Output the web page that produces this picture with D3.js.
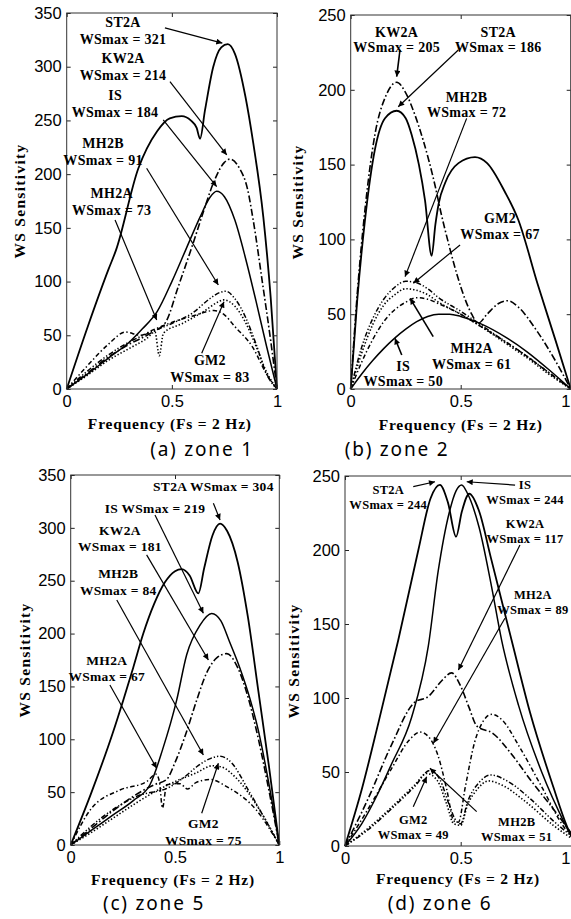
<!DOCTYPE html>
<html>
<head>
<meta charset="utf-8">
<script src="https://cdn.jsdelivr.net/npm/d3@7"></script>
<style>
  html, body { margin: 0; padding: 0; background: #fff; }
  svg { display: block; }
</style>
</head>
<body>
<svg id="fig" width="571" height="919"></svg>
<script>
// ---------- axis tick values ----------
const yTicks350 = [0, 50, 100, 150, 200, 250, 300, 350];
const yTicks250 = [0, 50, 100, 150, 200, 250];
const xTicks = [0, 0.5, 1];
const xTickLabels = ["0", "0.5", "1"];

// ---------- WS sensitivity vs. normalised frequency, [f, WS] ----------
// zone 1
const zone1_ST2A = [[0,0],[0.1,58],[0.2,112],[0.234,129],[0.34,205],[0.43,240],[0.49,252],[0.547,254],[0.59,250],[0.618,243],[0.634,233],[0.658,260],[0.697,300],[0.735,318],[0.766,321],[0.8,312],[0.85,272],[0.887,229],[0.935,160],[0.97,85],[1,0]];
const zone1_KW2A = [[0,0],[0.1,15],[0.2,30],[0.3,42],[0.4,52],[0.47,62],[0.53,95],[0.6,135],[0.65,165],[0.7,193],[0.75,211],[0.777,214],[0.82,206],[0.86,186],[0.887,157],[0.93,100],[0.97,45],[1,0]];
const zone1_IS   = [[0,0],[0.1,14],[0.2,29],[0.3,44],[0.36,56],[0.43,72],[0.5,100],[0.567,130],[0.634,160],[0.68,178],[0.713,184],[0.75,179],[0.8,157],[0.85,122],[0.9,82],[0.95,40],[1,0]];
const zone1_MH2B = [[0,0],[0.1,17],[0.2,32],[0.3,44],[0.4,53],[0.5,61],[0.6,71],[0.68,84],[0.73,90],[0.757,91],[0.8,84],[0.85,67],[0.9,42],[0.95,14],[1,0]];
const zone1_MH2A = [[0,0],[0.1,22],[0.2,42],[0.28,53],[0.35,50],[0.41,55],[0.5,62],[0.6,68],[0.7,73],[0.75,69],[0.8,58],[0.884,39],[0.95,14],[1,0]];
const zone1_GM2  = [[0,0],[0.1,13],[0.2,27],[0.3,38],[0.38,47],[0.42,53],[0.44,31],[0.46,52],[0.55,61],[0.65,72],[0.72,81],[0.745,83],[0.8,77],[0.85,62],[0.9,40],[0.95,16],[1,0]];

// zone 2
const zone2_ST2A = [[0,0],[0.03,60],[0.065,113],[0.11,160],[0.156,181],[0.209,186],[0.25,181],[0.277,170],[0.31,150],[0.338,126],[0.368,89],[0.385,110],[0.4,124],[0.43,138],[0.49,151],[0.565,155],[0.62,151],[0.7,132],[0.762,113],[0.85,70],[0.93,33],[1,0]];
const zone2_KW2A = [[0,0],[0.03,64],[0.065,120],[0.11,170],[0.16,196],[0.209,205],[0.25,198],[0.29,184],[0.33,166],[0.385,135],[0.41,118],[0.44,100],[0.48,78],[0.52,60],[0.55,50],[0.58,44],[0.62,50],[0.67,57],[0.715,59],[0.76,55],[0.85,38],[0.93,19],[1,0]];
const zone2_IS   = [[0,0],[0.05,10],[0.1,19],[0.15,27],[0.2,34],[0.25,40],[0.3,45],[0.35,48.5],[0.4,50],[0.45,50],[0.5,48.5],[0.6,43],[0.7,35],[0.8,25],[0.9,13],[1,0]];
const zone2_MH2B = [[0,0],[0.05,28],[0.1,47],[0.15,60],[0.2,68],[0.25,72],[0.3,71],[0.35,67],[0.4,61],[0.5,52],[0.6,42],[0.7,32],[0.8,22],[0.9,11],[1,0]];
const zone2_MH2A = [[0,0],[0.05,18],[0.1,33],[0.15,45],[0.2,53],[0.25,58],[0.3,61],[0.35,60],[0.4,57],[0.5,50],[0.6,41],[0.7,32],[0.8,22],[0.9,11],[1,0]];
const zone2_GM2  = [[0,0],[0.05,24],[0.1,43],[0.15,56],[0.2,63],[0.25,67],[0.3,66],[0.35,63],[0.4,58],[0.5,50],[0.6,41],[0.7,31],[0.8,21],[0.9,10],[1,0]];

// zone 5
const zone5_ST2A = [[0,0],[0.1,50],[0.2,105],[0.252,137],[0.3,168],[0.348,200],[0.4,228],[0.45,248],[0.5,259],[0.532,261],[0.57,255],[0.612,238],[0.64,262],[0.68,293],[0.716,304],[0.75,297],[0.8,268],[0.85,215],[0.9,145],[0.95,75],[1,0]];
const zone5_KW2A = [[0,0],[0.1,16],[0.2,32],[0.3,46],[0.4,57],[0.46,62],[0.5,78],[0.55,104],[0.604,137],[0.652,163],[0.7,177],[0.748,181],[0.8,168],[0.85,140],[0.9,100],[0.95,52],[1,0]];
const zone5_IS   = [[0,0],[0.1,14],[0.2,28],[0.3,42],[0.38,57],[0.44,90],[0.508,137],[0.556,180],[0.62,208],[0.676,219],[0.72,212],[0.76,193],[0.81,168],[0.86,138],[0.9,108],[0.95,58],[1,0]];
const zone5_MH2B = [[0,0],[0.156,27],[0.316,46],[0.476,55],[0.55,65],[0.604,74],[0.66,81],[0.716,84],[0.76,80],[0.86,49],[0.93,25],[1,0]];
const zone5_MH2A = [[0,0],[0.093,33],[0.236,52],[0.364,60],[0.41,67],[0.425,60],[0.44,35],[0.46,57],[0.524,58],[0.56,53],[0.6,59],[0.668,62],[0.75,55],[0.89,33],[1,0]];
const zone5_GM2  = [[0,0],[0.1,12],[0.2,25],[0.3,38],[0.4,50],[0.5,60],[0.6,68],[0.68,75],[0.72,74],[0.8,62],[0.9,35],[1,0]];

// zone 6
const zone6_ST2A = [[0,0],[0.072,38],[0.144,83],[0.23,139],[0.317,200],[0.37,235],[0.41,244],[0.445,232],[0.48,209],[0.505,226],[0.537,238],[0.58,226],[0.63,195],[0.72,139],[0.8,90],[0.9,40],[0.96,13],[1,0]];
const zone6_IS   = [[0,0],[0.072,15],[0.144,36],[0.2,55],[0.288,87],[0.36,135],[0.403,186],[0.45,225],[0.48,240],[0.504,244],[0.53,238],[0.58,215],[0.63,178],[0.677,139],[0.75,95],[0.85,50],[0.95,15],[1,0]];
const zone6_KW2A = [[0,0],[0.1,32],[0.2,68],[0.3,97],[0.36,101],[0.42,112],[0.46,117],[0.5,108],[0.535,94],[0.57,81],[0.64,76],[0.72,62],[0.8,45],[0.9,25],[1,4]];
const zone6_MH2A = [[0,0],[0.1,25],[0.2,52],[0.28,72],[0.324,77],[0.36,74],[0.4,62],[0.44,38],[0.47,17],[0.49,16],[0.52,40],[0.56,70],[0.6,85],[0.635,89],[0.68,85],[0.75,68],[0.85,40],[0.95,12],[1,4]];
const zone6_GM2  = [[0,0],[0.1,12],[0.2,26],[0.3,41],[0.353,49],[0.4,44],[0.44,28],[0.47,15],[0.5,14],[0.53,28],[0.57,38],[0.62,44],[0.68,41],[0.78,30],[0.9,14],[1,3]];
const zone6_MH2B = [[0,0],[0.1,11],[0.2,25],[0.3,40],[0.367,51],[0.41,45],[0.45,28],[0.48,17],[0.5,15],[0.53,30],[0.58,43],[0.63,48],[0.7,44],[0.8,32],[0.9,17],[1,4]];

// ---------- callouts: label anchor, arrow tail and arrow tip, in data units ----------
const zone1Notes = [
  { name: "ST2A", at: [0.268, 341.7], tail: [0.467, 336.1], tip: [0.74, 322] },
  { name: "KW2A", at: [0.268, 307.9], tail: [0.491, 286.1], tip: [0.761, 217.9] },
  { name: "IS",   at: [0.230, 273.7], tail: [0.459, 250.5], tip: [0.713, 188.4] },
  { name: "MH2B", at: [0.173, 229.0], tail: [0.380, 205.5], tip: [0.721, 96.8] },
  { name: "MH2A", at: [0.214, 182.5], tail: [0.230, 157.4], tip: [0.428, 64.2] },
  { name: "GM2",  at: [0.681, 27.0],  tail: [0.642, 33.2],  tip: [0.748, 81.3] }
];
const zone2Notes = [
  { name: "KW2A", at: [0.209, 238.8], tail: [0.224, 226.6], tip: [0.209, 208.8], heavy: true },
  { name: "ST2A", at: [0.671, 238.8], tail: [0.489, 226.6], tip: [0.216, 188.7] },
  { name: "MH2B", at: [0.527, 195.4], tail: [0.527, 180.9], tip: [0.247, 75.1] },
  { name: "GM2",  at: [0.679, 114.1], tail: [0.497, 96.3],  tip: [0.285, 70.7] },
  { name: "MH2A", at: [0.550, 27.2],  tail: [0.375, 35.0],  tip: [0.270, 60.6], heavy: true },
  { name: "IS",   at: [0.239, 15.4],  tail: [0.232, 22.7],  tip: [0.201, 33.9], heavy: true }
];
const zone5Notes = [
  { name: "ST2A", at: [0.684, 339.0], tail: [0.684, 323.3], tip: [0.716, 307.5], inline: true },
  { name: "IS",   at: [0.404, 318.5], tail: [0.404, 312.2], tip: [0.636, 219.2], inline: true },
  { name: "KW2A", at: [0.236, 298.0], tail: [0.364, 274.4], tip: [0.660, 175.0] },
  { name: "MH2B", at: [0.228, 257.0], tail: [0.221, 231.8], tip: [0.636, 85.1] },
  { name: "MH2A", at: [0.173, 175.0], tail: [0.188, 151.4], tip: [0.412, 72.6] },
  { name: "GM2",  at: [0.636, 20.5],  tail: [0.628, 30.0],  tip: [0.708, 77.3] }
];
const zone6Notes = [
  { name: "ST2A", at: [0.187, 240.5], tail: [0.295, 242.8], tip: [0.389, 246.1] },
  { name: "IS",   at: [0.778, 243.9], tail: [0.735, 243.9], tip: [0.526, 246.1] },
  { name: "KW2A", at: [0.778, 218.0], tail: [0.756, 203.4], tip: [0.490, 118.9] },
  { name: "MH2A", at: [0.812, 169.6], tail: [0.691, 153.9], tip: [0.382, 69.4] },
  { name: "GM2",  at: [0.295, 17.6],  tail: [0.295, 26.6],  tip: [0.353, 46.8] },
  { name: "MH2B", at: [0.742, 16.4],  tail: [0.569, 23.2],  tip: [0.367, 52.5] }
];

// ---------- line style per model ----------
const lineStyle = {
  ST2A: { width: 1.8, dash: null },
  IS:   { width: 1.5, dash: null },
  KW2A: { width: 1.6, dash: "7,2.5,1.6,2.5" },
  MH2B: { width: 1.5, dash: "5,2,1.3,2,1.3,2" },
  MH2A: { width: 1.5, dash: "4.5,2.5,1.4,2.5" },
  GM2:  { width: 1.6, dash: "1.4,2" }
};

// ---------- panel layout ----------
const panels = [
  { caption: "(a) zone 1", yMax: 350, yTicks: yTicks350, left: 66.7, right: 277, top: 13, bottom: 389,
    series: { ST2A: zone1_ST2A, KW2A: zone1_KW2A, IS: zone1_IS, MH2B: zone1_MH2B, MH2A: zone1_MH2A, GM2: zone1_GM2 },
    notes: zone1Notes, yTitleX: 20, captionX: 202, captionY: 456, xTitleY: 429, noteSize: 14, lineGap: 17 },
  { caption: "(b) zone 2", yMax: 250, yTicks: yTicks250, left: 350.7, right: 570.7, top: 15, bottom: 389,
    series: { ST2A: zone2_ST2A, KW2A: zone2_KW2A, IS: zone2_IS, MH2B: zone2_MH2B, MH2A: zone2_MH2A, GM2: zone2_GM2 },
    notes: zone2Notes, yTitleX: 298, captionX: 397, captionY: 456, xTitleY: 430, noteSize: 14, lineGap: 15.5 },
  { caption: "(c) zone 5", yMax: 350, yTicks: yTicks350, left: 70.7, right: 279.3, top: 475, bottom: 845,
    series: { ST2A: zone5_ST2A, KW2A: zone5_KW2A, IS: zone5_IS, MH2B: zone5_MH2B, MH2A: zone5_MH2A, GM2: zone5_GM2 },
    notes: zone5Notes, yTitleX: 25, captionX: 154, captionY: 910, xTitleY: 885, noteSize: 13.5, lineGap: 16.5 },
  { caption: "(d) zone 6", yMax: 250, yTicks: yTicks250, left: 345, right: 576.4, top: 476, bottom: 846,
    series: { ST2A: zone6_ST2A, KW2A: zone6_KW2A, IS: zone6_IS, MH2B: zone6_MH2B, MH2A: zone6_MH2A, GM2: zone6_GM2 },
    notes: zone6Notes, yTitleX: 294, captionX: 440, captionY: 910, xTitleY: 884, noteSize: 12.5, lineGap: 15 }
];

const W = 571;
const svg = d3.select("#fig");
const serif = "'Liberation Serif', 'DejaVu Serif', serif";
const sans = "'Liberation Sans', Arial, sans-serif";

svg.append("defs").append("marker")
  .attr("id", "arrowhead")
  .attr("viewBox", "0 0 10 10")
  .attr("refX", 10).attr("refY", 5)
  .attr("markerUnits", "userSpaceOnUse")
  .attr("markerWidth", 9).attr("markerHeight", 6)
  .attr("orient", "auto")
  .append("path").attr("d", "M0,0L10,5L0,10Z").attr("fill", "#000");

panels.forEach(p => {
  const x = d3.scaleLinear().domain([0, 1]).range([p.left, p.right]);
  const y = d3.scaleLinear().domain([0, p.yMax]).range([p.bottom, p.top]);
  const g = svg.append("g");

  // curves
  const line = d3.line().x(d => x(d[0])).y(d => y(d[1])).curve(d3.curveMonotoneX);
  Object.entries(p.series).forEach(([name, pts]) => {
    const st = lineStyle[name];
    g.append("path")
      .datum(pts)
      .attr("d", line)
      .attr("fill", "none")
      .attr("stroke", "#000")
      .attr("stroke-width", st.width)
      .attr("stroke-dasharray", st.dash)
      .attr("stroke-linejoin", "round");
  });

  // frame and inward ticks
  const axisFont = sel => sel.selectAll("text")
    .attr("font-family", sans).attr("font-size", 16.5).attr("fill", "#000");
  const tickStyle = sel => { sel.select(".domain").remove(); sel.selectAll("line").attr("stroke", "#222"); };

  g.append("g").attr("transform", `translate(${p.left},0)`)
    .call(d3.axisLeft(y).tickValues(p.yTicks).tickFormat(d3.format("d")).tickSizeInner(-4).tickSizeOuter(0).tickPadding(5))
    .call(tickStyle).call(axisFont);
  g.append("g").attr("transform", `translate(${p.right},0)`)
    .call(d3.axisRight(y).tickValues(p.yTicks).tickFormat("").tickSizeInner(-4).tickSizeOuter(0))
    .call(tickStyle);
  const bottomAxis = g.append("g").attr("transform", `translate(0,${p.bottom})`)
    .call(d3.axisBottom(x).tickValues(xTicks).tickFormat((d, i) => xTickLabels[i]).tickSizeInner(-4).tickSizeOuter(0).tickPadding(6))
    .call(tickStyle).call(axisFont);
  // keep a tick label that would fall past the page edge inside it
  if (p.right > W - 6) {
    bottomAxis.selectAll(".tick").filter(d => d === 1)
      .select("text").attr("text-anchor", "end").attr("x", W - 1 - x(1));
  }
  g.append("g").attr("transform", `translate(0,${p.top})`)
    .call(d3.axisTop(x).tickValues(xTicks).tickFormat("").tickSizeInner(-4).tickSizeOuter(0))
    .call(tickStyle);

  g.append("rect")
    .attr("x", p.left).attr("y", p.top)
    .attr("width", p.right - p.left).attr("height", p.bottom - p.top)
    .attr("fill", "none").attr("stroke", "#333").attr("stroke-width", 1);

  // callouts
  p.notes.forEach(n => {
    const pts = p.series[n.name];
    const wsmax = d3.max(pts, d => d[1]);
    const lines = n.inline ? [`${n.name} WSmax = ${wsmax}`] : [n.name, `WSmax = ${wsmax}`];
    g.append("line")
      .attr("x1", x(n.tail[0])).attr("y1", y(n.tail[1]))
      .attr("x2", x(n.tip[0])).attr("y2", y(n.tip[1]))
      .attr("stroke", "#000").attr("stroke-width", n.heavy ? 1.6 : 1.2)
      .attr("marker-end", "url(#arrowhead)");
    const t = g.append("text")
      .attr("font-family", serif).attr("font-weight", "bold")
      .attr("font-size", p.noteSize).attr("text-anchor", "middle")
      .attr("letter-spacing", 0.3).attr("fill", "#000");
    lines.forEach((s, i) => {
      t.append("tspan")
        .attr("x", x(n.at[0]))
        .attr("y", y(n.at[1]) + i * p.lineGap)
        .attr("dy", "0.35em")
        .text(s);
    });
  });

  // axis titles
  g.append("text")
    .attr("x", (p.left + Math.min(p.right, W)) / 2 + (p.right > W - 10 ? 0 : -2))
    .attr("y", p.xTitleY)
    .attr("text-anchor", "middle")
    .attr("font-family", serif).attr("font-weight", "bold")
    .attr("font-size", 15.5).attr("letter-spacing", 0.8)
    .text("Frequency (Fs = 2 Hz)");

  g.append("text")
    .attr("transform", `translate(${p.yTitleX},${(p.top + p.bottom) / 2}) rotate(-90)`)
    .attr("text-anchor", "middle").attr("dy", "0.35em")
    .attr("font-family", serif).attr("font-weight", "bold")
    .attr("font-size", 15.5).attr("letter-spacing", 1.3)
    .text("WS Sensitivity");

  g.append("text")
    .attr("x", p.captionX).attr("y", p.captionY)
    .attr("text-anchor", "middle")
    .attr("font-family", "'Noto Sans', 'Open Sans', sans-serif")
    .attr("font-size", 19).attr("letter-spacing", 1.8)
    .text(p.caption);
});
</script>
</body>
</html>
